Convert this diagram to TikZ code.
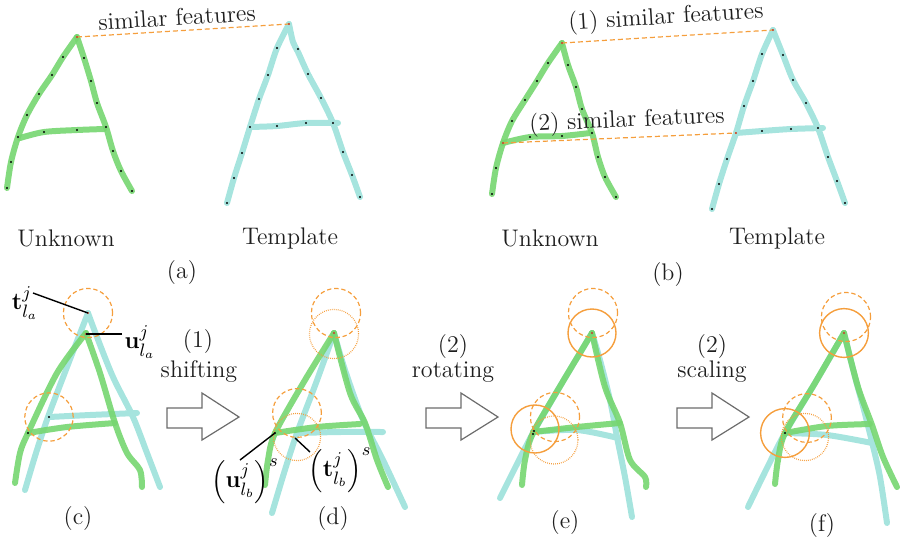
\documentclass[tikz,border=0pt]{standalone}
\usepackage{amsmath}
\usetikzlibrary{calc}
\definecolor{gstr}{RGB}{118,214,112}
\definecolor{cstr}{RGB}{166,228,222}
\definecolor{orng}{RGB}{245,158,60}
\definecolor{txt}{RGB}{30,30,30}
\definecolor{reddot}{RGB}{200,60,40}
\tikzset{
  gline/.style={draw=gstr,line width=3pt,line cap=round,line join=round,opacity=0.9},
  cline/.style={draw=cstr,line width=3pt,line cap=round,line join=round},
  simline/.style={draw=orng,line width=0.6pt,dash pattern=on 2.5pt off 1.5pt},
  dcirc/.style={draw=orng,line width=0.6pt,dash pattern=on 2.2pt off 1.4pt},
  scirc/.style={draw=orng,line width=0.7pt},
  tcirc/.style={draw=orng,line width=0.6pt,dash pattern=on 0.4pt off 0.6pt},
  lbl/.style={text=txt,font=\fontsize{12}{14}\selectfont,inner sep=0pt},
  mlbl/.style={text=black,font=\fontsize{12.5}{14}\selectfont,inner sep=0pt},
  pointer/.style={draw=black,line width=0.7pt},
  bigarrow/.style={draw=gray!85!black,line width=0.6pt,fill=white},
}
\newcommand{\pdot}[1]{\fill[black] #1 circle[radius=0.6pt];}
\newcommand{\rdot}[1]{\fill[reddot] #1 circle[radius=0.6pt];}
\begin{document}
\begin{tikzpicture}[x=0.5pt,y=-0.5pt]
\path[use as bounding box] (0,0) rectangle (900,537);

% ================= (a) =================
\draw[cline] plot[smooth] coordinates {(289,24) (277,48) (268,75) (259,99) (250,127) (242,153) (234,178) (227,203)};
\draw[cline] plot[smooth] coordinates {(289,24) (293,42) (298,52) (308,74) (321,98) (333,123) (343,152) (352,175) (360,197)};
\draw[cline] plot[smooth] coordinates {(250,127) (277,126) (306,123) (338,123)};
\draw[gline] plot[smooth] coordinates {(77,37) (63,57) (52,75) (39,94) (27,115) (18,137) (11,162) (7,188)};
\draw[gline] plot[smooth] coordinates {(77,37) (84,58) (91,81) (97,103) (106,127) (113,151) (121,171) (132,191)};
\draw[gline] plot[smooth] coordinates {(20,138) (44,132) (77,130) (104,129)};
\foreach \p in {(63,57),(52,75),(39,94),(27,115),(18,137),(11,162),(7,188),(84,58),(91,81),(97,103),(106,127),(113,151),(121,171),(132,191),(44,132),(77,130),
(277,48),(268,75),(259,99),(250,127),(242,153),(234,178),(227,203),(298,49),(308,74),(321,98),(333,123),(343,152),(352,175),(360,197),(277,126),(306,123)} {\pdot{\p}}
\coordinate (aU) at (77,37);
\coordinate (aT) at (289,24);
\draw[simline] (aU) -- (aT);
\rdot{(aU)} \rdot{(aT)}
\node[lbl,rotate=3.5] (simA) at (177,17) {similar features};
\node[lbl] (unkA) at (66,238) {Unknown};
\node[lbl] (tplA) at (290,238) {Template};
\node[lbl] (capA) at (182,273) {(a)};

% ================= (b) =================
\draw[cline] plot[smooth] coordinates {(773,30) (762,54) (753,81) (744,106) (736,133) (727,159) (719,184) (712,209)};
\draw[cline] plot[smooth] coordinates {(773,30) (783,55) (793,80) (806,103) (818,128) (828,157) (837,181) (845,203)};
\draw[cline] plot[smooth] coordinates {(736,133) (762,131) (791,129) (823,128)};
\draw[gline] plot[smooth] coordinates {(562,43) (548,63) (537,81) (525,100) (512,121) (503,143) (496,168) (492,194)};
\draw[gline] plot[smooth] coordinates {(562,43) (568,65) (576,87) (582,109) (592,133) (598,157) (605,177) (616,197)};
\draw[gline] plot[smooth] coordinates {(503,143) (530,137) (562,136) (590,133)};
\foreach \p in {(548,63),(537,81),(525,100),(512,121),(496,168),(492,194),(568,65),(576,87),(582,109),(592,133),(598,157),(605,177),(616,197),(530,137),(562,136),
(762,54),(753,81),(744,106),(727,159),(719,184),(712,209),(783,55),(793,80),(806,103),(818,128),(828,157),(837,181),(845,203),(762,131),(791,129)} {\pdot{\p}}
\coordinate (bU1) at (562,43);
\coordinate (bT1) at (773,30);
\coordinate (bU2) at (503,143);
\coordinate (bT2) at (736,133);
\draw[simline] (bU1) -- (bT1);
\draw[simline] (bU2) -- (bT2);
\rdot{(bU1)} \rdot{(bT1)} \rdot{(bU2)} \rdot{(bT2)}
\node[lbl,rotate=3.5] (simB1) at (666,18) {(1) similar features};
\node[lbl,rotate=2.5] (simB2) at (627,121) {(2) similar features};
\node[lbl] (unkB) at (550,238) {Unknown};
\node[lbl] (tplB) at (777,238) {Template};
\node[lbl] (capB) at (668,275) {(b)};

% ================= (c) =================
\draw[cline] plot[smooth] coordinates {(88,313) (67,367) (48,417) (36,453) (25,490)};
\draw[cline] plot[smooth] coordinates {(88,313) (97,337) (113,377) (133,417) (147,453) (160,487)};
\draw[cline] plot[smooth] coordinates {(49,417) (90,415) (137,413)};
\draw[gline] plot[smooth] coordinates {(86,333) (57,373) (28,433) (20,453) (15,483)};
\draw[gline] plot[smooth] coordinates {(86,333) (100,373) (115,423) (127,453) (140,470) (142,487)};
\draw[gline] plot[smooth] coordinates {(28,433) (67,427) (115,423)};
\draw[dcirc] (88,313) circle[radius=12.3pt];
\draw[dcirc] (49,417) circle[radius=12.1pt];
\coordinate (cT) at (88,313);
\coordinate (cU) at (86,334);
\rdot{(cT)} \rdot{(cU)}
\pdot{(49,417)} \pdot{(28,433)}
\node[mlbl] (tla) at (25,303) {$\mathbf{t}_{l_a}^{j}$};
\node[mlbl] (ula) at (140,342) {$\mathbf{u}_{l_a}^{j}$};
\coordinate (tlaEnd) at (33,293);
\coordinate (ulaEnd) at (122,334);
\draw[pointer] (tlaEnd) -- (cT);
\draw[pointer] (ulaEnd) -- (cU);
\node[lbl] (capC) at (78,518) {(c)};

% arrow 1
\draw[bigarrow] (167,408) -- (202,408) -- (202,393) -- (239,417) -- (202,440) -- (202,428) -- (167,428) -- cycle;
\node[lbl] (s1a) at (198,342) {(1)};
\node[lbl] (s1b) at (199,372) {shifting};

% ================= (d) =================
\draw[cline] plot[smooth] coordinates {(334,333) (316,383) (297,433) (284,473) (272,513)};
\draw[cline] plot[smooth] coordinates {(334,333) (345,370) (363,420) (383,460) (405,507)};
\draw[cline] plot[smooth] coordinates {(297,433) (340,432) (383,432)};
\draw[gline] plot[smooth] coordinates {(334,333) (305,380) (275,433) (268,460) (265,485)};
\draw[gline] plot[smooth] coordinates {(334,333) (350,393) (365,423) (377,460) (388,487)};
\draw[gline] plot[smooth] coordinates {(275,433) (317,427) (360,424)};
\draw[dcirc] (336,313) circle[radius=12.3pt];
\draw[tcirc] (334,334) circle[radius=12.3pt];
\draw[dcirc] (297,413) circle[radius=12.2pt];
\draw[tcirc] (297,437) circle[radius=11.8pt];
\coordinate (dU) at (275,433);
\coordinate (dT) at (295,438);
\rdot{(334,333)}
\pdot{(dU)}
\node[mlbl] (ulb) at (245,481) {$\left(\mathbf{u}_{l_b}^{j}\right)^{s}$};
\node[mlbl] (tlb) at (340,470) {$\left(\mathbf{t}_{l_b}^{j}\right)^{s}$};
\coordinate (ulbEnd) at (240,460);
\coordinate (tlbEnd) at (310,452);
\draw[pointer] (ulbEnd) -- (dU);
\draw[pointer] (tlbEnd) -- (dT);
\node[lbl] (capD) at (333,518) {(d)};

% arrow 2
\draw[bigarrow] (426,408) -- (461,408) -- (461,393) -- (498,417) -- (461,440) -- (461,428) -- (426,428) -- cycle;
\node[lbl] (s2a) at (453,347) {(2)};
\node[lbl] (s2b) at (453,372) {rotating};

% ================= (e) =================
\draw[cline] plot[smooth] coordinates {(592,333) (562,383) (533,433) (515,468) (500,498)};
\draw[cline] plot[smooth] coordinates {(592,333) (600,360) (610,400) (617,437) (625,477) (632,517)};
\draw[cline] plot[smooth] coordinates {(533,432) (577,430) (618,438)};
\draw[gline] plot[smooth] coordinates {(592,333) (562,383) (533,433) (525,460) (522,485)};
\draw[gline] plot[smooth] coordinates {(592,333) (605,387) (620,423) (630,460) (645,477) (646,487)};
\draw[gline] plot[smooth] coordinates {(533,432) (577,427) (620,423)};
\draw[dcirc] (593,313) circle[radius=12.3pt];
\draw[scirc] (592,333) circle[radius=12pt];
\draw[scirc] (535,429) circle[radius=12pt];
\draw[dcirc] (555,417) circle[radius=12.3pt];
\draw[tcirc] (554,440) circle[radius=12pt];
\rdot{(592,333)}
\pdot{(534,431)} \pdot{(533,434)}
\node[lbl] (capE) at (565,523) {(e)};

% arrow 3
\draw[bigarrow] (677,408) -- (712,408) -- (712,393) -- (749,417) -- (712,440) -- (712,428) -- (677,428) -- cycle;
\node[lbl] (s3a) at (712,347) {(2)};
\node[lbl] (s3b) at (712,372) {scaling};

% ================= (f) =================
\draw[cline] plot[smooth] coordinates {(844,333) (815,383) (785,433) (766,470) (748,507)};
\draw[cline] plot[smooth] coordinates {(844,333) (855,377) (864,410) (872,442) (880,477) (887,523)};
\draw[cline] plot[smooth] coordinates {(785,433) (827,435) (872,443)};
\draw[gline] plot[smooth] coordinates {(844,333) (815,383) (785,433) (778,460) (775,484)};
\draw[gline] plot[smooth] coordinates {(844,333) (858,387) (872,425) (883,457) (897,487)};
\draw[gline] plot[smooth] coordinates {(785,433) (827,426) (870,424)};
\draw[dcirc] (846,317) circle[radius=12.3pt];
\draw[scirc] (844,333) circle[radius=12.2pt];
\draw[scirc] (785,433) circle[radius=12.2pt];
\draw[dcirc] (807,418) circle[radius=12.2pt];
\draw[tcirc] (805,437) circle[radius=11.8pt];
\rdot{(844,333)}
\pdot{(785,433)}
\node[lbl] (capF) at (822,525) {(f)};
\end{tikzpicture}
\end{document}
